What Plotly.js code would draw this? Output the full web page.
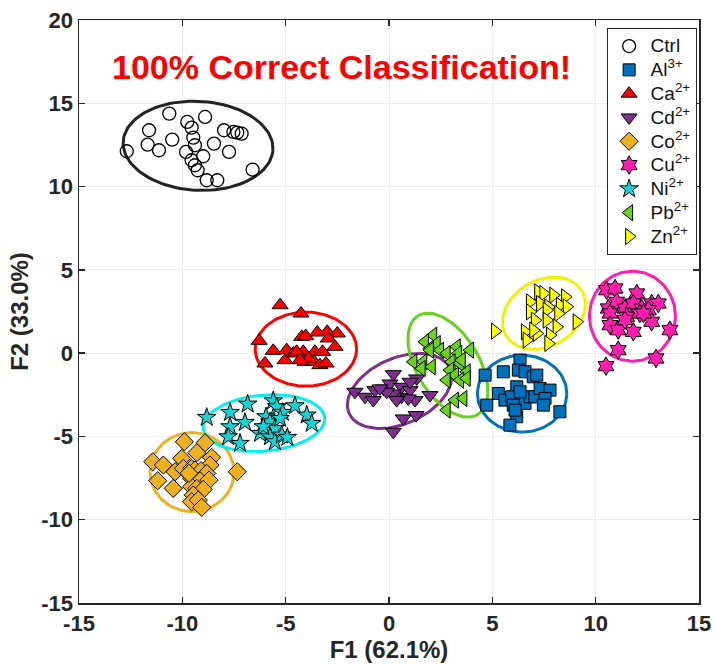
<!DOCTYPE html>
<html>
<head>
<meta charset="utf-8">
<script src="https://cdn.plot.ly/plotly-3.0.1.min.js"></script>
<style>html,body{margin:0;padding:0;background:#fff;}#chart{width:715px;height:664px;}</style>
</head>
<body>
<div id="chart"></div>
<script>
// ---- data ----
const ctrlX = [-12.69,-10.63,-11.61,-11.68,-11.13,-10.49,-9.76,-9.55,-8.90,-9.47,-9.39,-9.82,-8.99,-9.55,-9.39,-9.26,-8.82,-8.31,-8.47,-7.98,-7.74,-7.53,-7.34,-7.13,-6.60];
const ctrlY = [12.12,14.38,13.38,12.52,12.18,12.82,13.88,13.54,14.18,12.94,12.48,12.08,11.82,11.58,11.28,10.98,10.38,10.38,12.58,13.38,12.08,13.28,13.24,13.18,11.02];

const alX = [6.34,5.53,6.26,6.58,6.98,7.15,4.65,5.29,5.61,6.18,5.94,6.42,6.58,6.01,6.82,7.06,7.31,7.79,7.55,7.47,8.27,6.18,5.85,4.73,6.10,6.34];
const alY = [-0.42,-1.12,-1.02,-1.12,-1.42,-1.32,-1.32,-2.42,-2.82,-2.02,-2.62,-2.62,-3.02,-3.12,-2.62,-2.62,-2.12,-2.22,-2.72,-3.12,-3.52,-3.82,-4.32,-3.12,-3.42,-2.32];

const caX = [-5.27,-4.26,-6.28,-5.60,-6.00,-4.95,-5.03,-4.63,-4.22,-4.03,-4.15,-4.06,-3.58,-3.47,-2.99,-2.50,-2.94,-2.61,-3.21,-3.63,-3.34,-3.05,-3.90,-4.47,-4.31];
const caY = [2.88,2.38,0.74,0.14,-0.62,0.18,-0.42,-0.02,0.98,1.02,0.08,-0.52,0.08,1.24,1.28,1.18,0.88,0.38,0.08,-0.52,-0.72,-0.62,-0.32,0.08,-0.42];

const cdX = [-1.65,-1.16,-0.76,-0.68,-0.28,0.05,0.21,0.61,0.61,0.21,-0.11,1.02,1.34,1.26,1.98,0.69,1.31,0.21,0.93,0.37,-0.44,1.02];
const cdY = [-2.32,-2.62,-2.82,-2.22,-2.12,-1.82,-1.26,-2.02,-2.62,-2.42,-2.32,-2.22,-1.52,-2.82,-2.52,-3.92,-3.72,-4.72,-2.72,-2.82,-2.12,-1.72];

const coX = [-9.90,-8.90,-11.43,-10.92,-11.19,-10.44,-10.35,-10.03,-9.95,-9.30,-8.58,-8.66,-9.55,-9.39,-9.10,-8.82,-9.55,-9.15,-8.71,-9.55,-9.30,-8.99,-9.47,-9.55,-9.23,-9.06,-7.34,-9.68];
const coY = [-5.32,-5.38,-6.52,-6.72,-7.66,-8.12,-7.12,-6.32,-6.92,-5.98,-6.26,-6.72,-6.92,-7.02,-7.06,-7.22,-7.52,-7.66,-7.62,-8.02,-8.12,-8.18,-8.52,-8.92,-8.82,-9.26,-7.12,-7.22];

const cuX = [10.53,10.94,11.99,10.61,11.02,11.42,11.82,12.23,12.71,13.03,10.69,11.50,12.14,12.55,12.71,10.69,11.09,11.82,13.59,11.09,12.92,10.50,11.42,12.31];
const cuY = [3.78,3.88,3.58,2.68,3.08,2.68,2.98,2.68,2.98,2.98,2.38,2.18,2.38,2.58,1.88,1.68,1.38,1.28,1.38,0.18,-0.32,-0.78,1.98,2.38];

const niX = [-8.82,-7.69,-6.84,-5.60,-5.43,-5.14,-4.55,-3.98,-3.74,-6.97,-7.69,-7.78,-7.21,-6.24,-5.95,-5.76,-5.52,-5.76,-5.52,-5.19,-4.92,-5.27,-6.08];
const niY = [-3.86,-3.56,-3.06,-2.86,-3.22,-3.56,-3.16,-3.72,-4.22,-4.16,-4.42,-5.02,-5.42,-4.82,-3.82,-4.12,-4.52,-5.02,-5.32,-4.92,-5.06,-3.92,-4.42];

const pbX = [2.14,1.74,2.31,2.47,1.98,3.28,3.92,3.35,2.79,1.66,2.07,1.18,1.58,3.03,3.44,2.95,3.76,3.19,2.79,3.44,3.76,3.19,3.60,2.79,1.98,3.52];
const pbY = [1.08,0.68,0.58,0.18,0.28,0.38,0.18,-0.02,-0.02,-0.52,-0.82,-0.52,-0.92,-0.52,-0.62,-1.02,-1.12,-1.32,-1.62,-1.62,-1.52,-2.82,-2.72,-3.42,0.18,-0.42];

const znX = [5.13,7.22,7.47,7.95,8.52,6.82,7.31,7.71,8.27,8.60,6.82,7.63,8.19,7.06,7.63,8.11,6.58,7.15,7.79,6.66,7.71,6.98,9.08];
const znY = [1.32,3.68,3.58,3.48,3.38,3.08,2.98,2.78,2.88,2.78,2.48,2.58,2.38,1.98,1.98,1.58,1.28,1.18,1.08,0.78,0.58,1.38,1.88];

const groupNames = ['Ctrl','Al<sup>3+</sup>','Ca<sup>2+</sup>','Cd<sup>2+</sup>','Co<sup>2+</sup>','Cu<sup>2+</sup>','Ni<sup>2+</sup>','Pb<sup>2+</sup>','Zn<sup>2+</sup>'];
const groupX = [ctrlX, alX, caX, cdX, coX, cuX, niX, pbX, znX];
const groupY = [ctrlY, alY, caY, cdY, coY, cuY, niY, pbY, znY];

// confidence ellipses: centre (data units)
const ellCX = [-9.24, 6.44, -4.02, 0.51, -9.53, 11.78, -6.05, 2.85, 7.5];
const ellCY = [12.45, -2.43, 0.24, -2.27, -7.14, 2.22, -4.2, -0.72, 2.4];

const xTicks = [-15,-10,-5,0,5,10,15];
const yTicks = [-15,-10,-5,0,5,10,15,20];

// ---- styling ----
const FONT = 'Arial, "Liberation Sans", sans-serif';
const symbols = ['circle-open','square','triangle-up','triangle-down','diamond','hexagram','star','triangle-left','triangle-right'];
const fills = ['#000000','#0072BD','#FF0000','#7E2F8E','#EDB120','#FF1CAE','#12D6D6','#6CD317','#FFFF00'];
const sizes = [13,12,14,14,14,14,14,14,14];
const ellColors = ['#222222','#0072BD','#FF0000','#7E2F8E','#EDB120','#FF1CAE','#00F0F0','#66D21A','#F2F200'];
const ellA = [75, 44.7, 50.7, 55.2, 42, 43, 61, 57.7, 44];
const ellB = [44.5, 38.5, 37, 32.9, 39.5, 45, 28, 31.2, 33];
const ellAng = [-3, 0, 0, 24, 0, 0, 5, 121, 30];

const M = {l:79, r:16, t:20, b:61};
const W = 715, H = 664;
const pxX = (W - M.l - M.r) / 30;
const pxY = (H - M.t - M.b) / 35;

function ellipse(i){
  const xs=[], ys=[];
  const phi = ellAng[i]*Math.PI/180;
  for(let k=0;k<=120;k++){
    const t = 2*Math.PI*k/120;
    const dx = ellA[i]*Math.cos(t)*Math.cos(phi) - ellB[i]*Math.sin(t)*Math.sin(phi);
    const dy = ellA[i]*Math.cos(t)*Math.sin(phi) + ellB[i]*Math.sin(t)*Math.cos(phi);
    xs.push(ellCX[i] + dx/pxX);
    ys.push(ellCY[i] + dy/pxY);
  }
  return {x:xs, y:ys};
}

const traces = [];
for(let i=0;i<groupNames.length;i++){
  const e = ellipse(i);
  traces.push({x:e.x, y:e.y, type:'scatter', mode:'lines', showlegend:false, hoverinfo:'skip',
    line:{color:ellColors[i], width:3}});
}
for(let i=0;i<groupNames.length;i++){
  const isOpen = symbols[i]==='circle-open';
  traces.push({x:groupX[i], y:groupY[i], type:'scatter', mode:'markers',
    name:'<span style="font-size:19px">' + groupNames[i] + '</span>',
    marker:{symbol:symbols[i], size:sizes[i], color: isOpen ? '#000000' : fills[i],
      line:{color:'#000000', width: isOpen ? 1.3 : 1}}});
}

const axisCommon = {
  showline:true, mirror:'ticks', linecolor:'#262626', linewidth:1.5,
  ticks:'inside', ticklen:6, tickcolor:'#262626', tickwidth:1.3,
  showgrid:true, gridcolor:'#ebebeb', gridwidth:1, zeroline:false,
  tickfont:{family:FONT, size:22, color:'#262626', weight:'bold'}
};

const layout = {
  width:W, height:H, margin:M, paper_bgcolor:'#fff', plot_bgcolor:'#fff',
  xaxis: Object.assign({}, axisCommon, {range:[-15,15], tickvals:xTicks, ticktext:xTicks.map(String),
    title:{text:'F1 (62.1%)', standoff:2, font:{family:FONT, size:24, color:'#262626', weight:'bold'}}}),
  yaxis: Object.assign({}, axisCommon, {range:[-15,20], tickvals:yTicks, ticktext:yTicks.map(String),
    title:{text:'F2 (33.0%)', standoff:6, font:{family:FONT, size:24, color:'#262626', weight:'bold'}}}),
  legend:{x:0.851, y:0.986, xanchor:'left', yanchor:'top', bgcolor:'#fff', bordercolor:'#262626', borderwidth:1,
    font:{family:FONT, size:16, color:'#111'}, tracegroupgap:0, itemwidth:33},
  annotations:[{text:'100% Correct Classification!', xref:'paper', yref:'paper', x:0.423, y:0.92, xanchor:'center', yanchor:'middle',
    showarrow:false, font:{family:FONT, size:34, color:'#FF0000', weight:'bold'}}],
  showlegend:true
};

Plotly.newPlot('chart', traces, layout, {displayModeBar:false, staticPlot:true});
</script>
</body>
</html>
